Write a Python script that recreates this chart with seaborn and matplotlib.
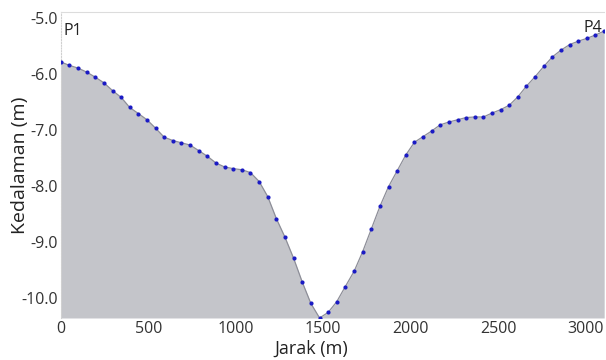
import matplotlib
matplotlib.use("Agg")
import matplotlib.pyplot as plt
import seaborn as sns
import pandas as pd

# Profile distance along the transect (m)
jarak = [0, 49, 99, 148, 197, 246, 296, 345, 394, 444, 493, 542, 591, 641,
         690, 739, 789, 838, 887, 936, 986, 1035, 1084, 1134, 1183, 1232,
         1281, 1331, 1380, 1429, 1479, 1528, 1577, 1626, 1676, 1725, 1774,
         1824, 1873, 1922, 1971, 2021, 2070, 2119, 2168, 2218, 2267, 2316,
         2366, 2415, 2464, 2513, 2563, 2612, 2661, 2711, 2760, 2809, 2858,
         2908, 2957, 3006, 3055, 3105]

# Measured depth (m)
kedalaman = [-5.79, -5.85, -5.90, -5.97, -6.06, -6.16, -6.30, -6.42, -6.60,
             -6.71, -6.82, -6.97, -7.13, -7.19, -7.23, -7.27, -7.37, -7.47,
             -7.59, -7.66, -7.69, -7.71, -7.76, -7.92, -8.19, -8.58, -8.91,
             -9.29, -9.71, -10.09, -10.35, -10.25, -10.06, -9.79, -9.52,
             -9.17, -8.77, -8.36, -8.01, -7.73, -7.45, -7.22, -7.12, -7.02,
             -6.91, -6.86, -6.82, -6.78, -6.77, -6.77, -6.70, -6.64, -6.56,
             -6.41, -6.22, -6.05, -5.87, -5.70, -5.58, -5.48, -5.42, -5.37,
             -5.31, -5.24]

x_ticks = [0, 500, 1000, 1500, 2000, 2500, 3000]
y_ticks = [-10.0, -9.0, -8.0, -7.0, -6.0, -5.0]
titik_awal, titik_akhir = "P1", "P4"

df = pd.DataFrame({"Jarak": jarak, "Kedalaman": kedalaman})

sns.set_theme(style="white")
plt.rcParams["font.family"] = ["Open Sans", "DejaVu Sans"]

fig = plt.figure(figsize=(6.06, 3.6), dpi=100)
ax = fig.add_axes([0.1002, 0.1167, 0.8968, 0.8500])

y_bottom = min(kedalaman)
y_top = -4.9

ax.fill_between(df["Jarak"], df["Kedalaman"], y_bottom,
                color="#c4c5ca", linewidth=0, zorder=1)
sns.lineplot(data=df, x="Jarak", y="Kedalaman", ax=ax, color="#8d8e98",
             linewidth=0.9, zorder=2)
sns.scatterplot(data=df, x="Jarak", y="Kedalaman", ax=ax, color="#1b1bc4",
                s=9, linewidth=0, zorder=3)

ax.set_xlim(jarak[0], jarak[-1])
ax.set_ylim(y_bottom, y_top)
ax.set_xticks(x_ticks)
ax.set_xticklabels([str(t) for t in x_ticks])
ax.set_yticks(y_ticks)
ax.set_yticklabels([f"{t:.1f}" for t in y_ticks])
ax.tick_params(axis="both", length=0, labelsize=11.5, colors="#333333")
ax.tick_params(axis="x", pad=2.5)
ax.tick_params(axis="y", pad=2)

for side in ("bottom", "right"):
    ax.spines[side].set_visible(False)
ax.spines["top"].set_color("#dcdcdc")
ax.spines["top"].set_linewidth(0.8)
ax.spines["left"].set_color("#d0d0d0")
ax.spines["left"].set_linewidth(0.8)
ax.spines["left"].set_linestyle((0, (1, 1.5)))

ax.set_xlabel("Jarak (m)", fontsize=13, color="#222222")
ax.set_ylabel("Kedalaman (m)", fontsize=14, color="#222222")
ax.xaxis.set_label_coords(0.461, -0.072)
ax.yaxis.set_label_coords(-0.058, 0.5)

ax.text(0.006, 0.965, titik_awal, transform=ax.transAxes, fontsize=11.5,
        color="#222222", ha="left", va="top")
ax.text(0.997, 0.975, titik_akhir, transform=ax.transAxes, fontsize=11.5,
        color="#222222", ha="right", va="top")

fig.savefig("out.png", dpi=100)
